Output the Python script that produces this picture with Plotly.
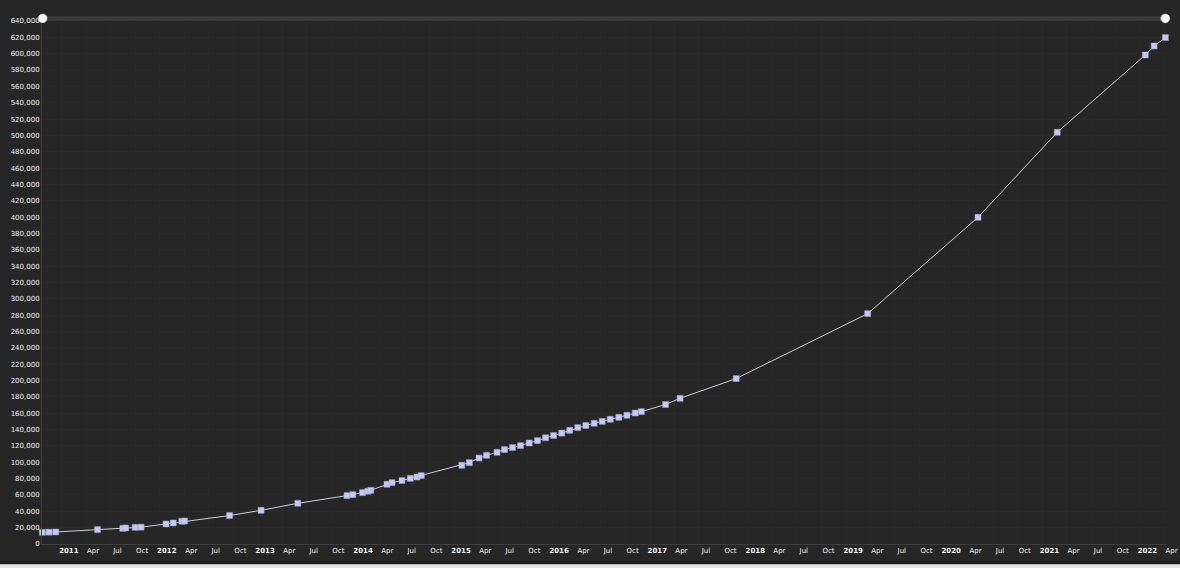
import plotly.graph_objects as go

dates = [
    "2010-10-20", "2010-11-14", "2010-12-09", "2011-05-14", "2011-08-16", "2011-08-27",
    "2011-10-01", "2011-10-23", "2012-01-24", "2012-02-20", "2012-03-23", "2012-04-02",
    "2012-09-17", "2013-01-12", "2013-05-29", "2013-11-28", "2013-12-20", "2014-01-25",
    "2014-02-14", "2014-02-25", "2014-04-26", "2014-05-15", "2014-06-21", "2014-07-22",
    "2014-08-16", "2014-09-01", "2015-01-30", "2015-02-27", "2015-04-04", "2015-05-02",
    "2015-06-10", "2015-07-08", "2015-08-07", "2015-09-06", "2015-10-08", "2015-11-08",
    "2015-12-08", "2016-01-07", "2016-02-06", "2016-03-07", "2016-04-06", "2016-05-06",
    "2016-06-06", "2016-07-06", "2016-08-05", "2016-09-06", "2016-10-06", "2016-11-06",
    "2016-11-29", "2017-02-27", "2017-04-22", "2017-11-17", "2019-03-22", "2020-05-06",
    "2021-02-25", "2022-01-19", "2022-02-21", "2022-04-04",
]
values = [
    14300, 14500, 14700, 17600, 19200, 19600,
    20400, 20600, 24500, 25700, 27800, 28100,
    34800, 41200, 49800, 59200, 60400, 62900,
    64500, 65700, 73100, 75100, 77600, 80300,
    82000, 83700, 96300, 99600, 105200, 108500,
    112200, 115500, 118000, 120400, 123600, 126500,
    130000, 132800, 135700, 139100, 142400, 145000,
    147700, 150100, 152600, 155000, 157500, 160300,
    162000, 170700, 178300, 202400, 281900, 399800,
    503800, 598400, 609400, 619700,
]

# x tick labels (every 3 months; year starts in bold)
tick_dates = []
tick_labels = []
month_names = {1: None, 4: "Apr", 7: "Jul", 10: "Oct"}
for yr in range(2011, 2023):
    for m in (1, 4, 7, 10):
        if yr == 2022 and m > 4:
            break
        tick_dates.append(f"{yr}-{m:02d}-01")
        tick_labels.append(f"<b>{yr}</b>" if m == 1 else month_names[m])

y_ticks = list(range(0, 640001, 20000))

BG = "#262626"
FONT = "DejaVu Sans"

fig = go.Figure()
fig.add_trace(go.Scatter(
    x=dates, y=values, mode="lines+markers",
    line=dict(color="#cfd0d6", width=1),
    marker=dict(symbol="square", size=6, color="#c4c9f2",
                line=dict(color="#9aa0c8", width=0.5)),
    cliponaxis=False, showlegend=False,
))

fig.update_layout(
    width=1180, height=568,
    margin=dict(l=42, r=13, t=21, b=24, autoexpand=False),
    paper_bgcolor=BG, plot_bgcolor=BG,
    font=dict(family=FONT, size=7, color="#f2f2f2"),
    xaxis=dict(
        type="date", range=["2010-10-19", "2022-04-10"], automargin=False,
        tickvals=tick_dates, ticktext=tick_labels, tickangle=0,
        ticklabelshift=7, ticks="", showgrid=True, gridcolor="#292929",
        showline=True, linecolor="#3e3e3e", linewidth=1,
        zeroline=False, tickfont=dict(size=7, color="#f2f2f2"),
    ),
    yaxis=dict(
        range=[0, 640000], tickvals=y_ticks, tickformat=",d", automargin=False,
        ticks="", showgrid=True, gridcolor="#292929",
        showline=True, linecolor="#3a3a3a", linewidth=1,
        zeroline=False, tickfont=dict(size=7, color="#f2f2f2"),
    ),
    shapes=[
        # top scrollbar track
        dict(type="rect", xref="paper", yref="paper", x0=0.0, x1=0.9985,
             y0=1.0, y1=1.0092, fillcolor="#3a3a3a", line=dict(width=0), layer="above"),
        # scrollbar grips
        dict(type="circle", xref="paper", yref="paper", xsizemode="pixel", ysizemode="pixel",
             xanchor=0.0006, yanchor=1.005, x0=-4.5, x1=4.5, y0=-4.5, y1=4.5,
             fillcolor="#ffffff", line=dict(color="#bbbbbb", width=0.5), layer="above"),
        dict(type="circle", xref="paper", yref="paper", xsizemode="pixel", ysizemode="pixel",
             xanchor=0.9985, yanchor=1.005, x0=-4.5, x1=4.5, y0=-4.5, y1=4.5,
             fillcolor="#ffffff", line=dict(color="#bbbbbb", width=0.5), layer="above"),
        # bottom light page strip
        dict(type="rect", xref="paper", yref="paper", x0=-0.05, x1=1.05,
             y0=-0.0375, y1=-0.0345, fillcolor="#1c1c1c", line=dict(width=0)),
        dict(type="rect", xref="paper", yref="paper", x0=-0.05, x1=1.05,
             y0=-0.06, y1=-0.0385, fillcolor="#e6e6e6", line=dict(width=0)),
    ],
)

fig.write_html(
    "out.html",
    config={"displayModeBar": False},
    post_script="document.body.style.margin='0';document.body.style.background='#262626';"
                "document.documentElement.style.overflow='hidden';",
)
